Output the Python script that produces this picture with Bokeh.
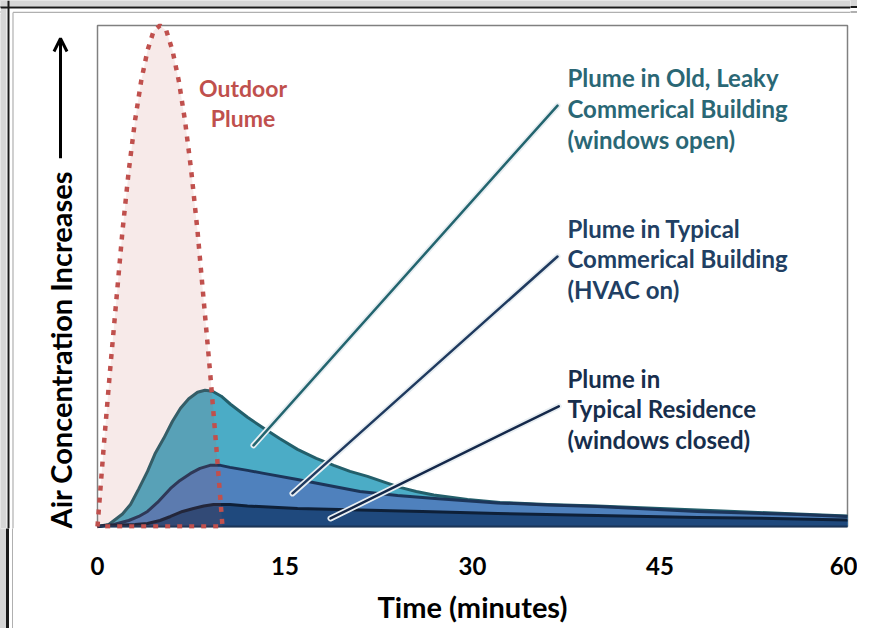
from bokeh.plotting import figure
from bokeh.models import Range1d, Arrow, OpenHead, FixedTicker, LinearAxis
from bokeh.core.properties import value
from bokeh.embed import file_html
from bokeh.resources import INLINE

# ---- data (minutes, relative concentration) ----
outdoor_t = [0, 0.5, 1, 1.5, 2, 2.5, 3, 3.5, 4, 4.5, 5, 5.5, 6, 6.5, 7, 7.5, 8, 8.5, 9, 9.5, 10]
outdoor_c = [0, 16, 31, 45, 59, 71, 81, 89, 95, 99, 100, 99, 95, 89, 81, 71, 59, 45, 31, 16, 0]

leaky_t = [0, 0.9, 2, 2.64, 3.3, 4, 4.6, 5.3, 6, 6.64, 7.3, 8, 8.6, 9.2, 9.9, 10.64, 12, 13.3, 14.6,
           16, 17.5, 18.9, 20.2, 21.6, 23, 24.2, 25.5, 26.9, 29.6, 32.2, 36, 40, 45, 50, 55, 60]
leaky_c = [0, 0.4, 2.5, 4.4, 7.5, 11, 14.5, 17.6, 21, 23.6, 25.5, 26.8, 27.2, 27, 26, 24.4, 21.8, 19.6, 17.5,
           15.4, 13.6, 12.2, 11, 10, 8.8, 7.8, 7.0, 6.3, 5.4, 4.8, 4.4, 4.1, 3.6, 3.1, 2.6, 2.1]

hvac_t = [0, 1.3, 2.5, 3.3, 4, 4.8, 5.84, 6.6, 7.44, 8.2, 9, 9.84, 10.6, 12, 13.3, 16, 18.5, 21, 24, 27,
          32, 36, 40, 44, 48, 52, 56, 60]
hvac_c = [0, 0.4, 1.2, 2, 3, 4.8, 7.6, 9.2, 10.6, 11.6, 12.2, 12.2, 11.8, 11.2, 10.6, 9.4, 8.2, 7, 6.2, 5.6,
          4.7, 4.3, 4.0, 3.5, 3.0, 2.7, 2.4, 2.0]

home_t = [0, 0.6, 2, 3, 4, 5, 5.84, 6.8, 7.68, 8.5, 9.28, 10.6, 12, 16, 21, 26, 32, 40, 48, 54, 60]
home_c = [0, 0.2, 0.3, 0.4, 0.6, 1.2, 2, 3, 3.6, 4.1, 4.4, 4.4, 4.1, 3.6, 3.3, 3.0, 2.6, 2.2, 1.8, 1.6, 1.3]

x_ticks = [0, 15, 30, 45, 60]
x_title = "Time (minutes)"
x_title_at = 30

FONT = "Lato"

# the frame is widened to the left/top so that the vertical title, arrow and page border sit inside it
XL, XR, YB, YT = -7.76, 60.24, -0.4, 104.99
p = figure(width=857, height=628, output_backend="svg", toolbar_location=None,
           x_range=Range1d(XL, XR), y_range=Range1d(YB, YT),
           min_border_left=0, min_border_right=7, min_border_top=0, min_border_bottom=100)
p.background_fill_color = "white"
p.border_fill_color = None
# continuation of the page border outside the frame
p.styles = {"background":
            "linear-gradient(to bottom, #d6d6d6 0px, #d6d6d6 6px, #1a1a1a 6px, #1a1a1a 8px, "
            "#ffffff 8px, #ffffff 11.5px, #b0b0b0 11.5px, #b0b0b0 12.7px, #ffffff 12.7px) "
            "left top / 100% 14px no-repeat, "
            "linear-gradient(to right, #d6d6d6 0px, #d6d6d6 6px, #1a1a1a 6px, "
            "#1a1a1a 9px, #ffffff 9px, #ffffff 12px, #b0b0b0 12px, #b0b0b0 13px, "
            "#ffffff 13px, #ffffff 100%)"}
p.outline_line_color = None
p.grid.visible = False
p.yaxis.visible = False

ax = p.xaxis[0]
ax.ticker = FixedTicker(ticks=x_ticks)
ax.axis_line_color = None
ax.major_tick_line_color = None
ax.minor_tick_line_color = None
ax.major_label_text_font = FONT
ax.major_label_text_font_style = "bold"
ax.major_label_text_font_size = "24px"
ax.major_label_text_color = "black"
ax.major_label_standoff = 22

# axis title carried by a second axis so that it is centred under the 0-60 range
ax2 = LinearAxis(ticker=FixedTicker(ticks=[x_title_at]),
                 major_label_overrides={x_title_at: x_title})
ax2.axis_line_color = None
ax2.major_tick_line_color = None
ax2.minor_tick_line_color = None
ax2.major_label_text_font = FONT
ax2.major_label_text_font_style = "bold"
ax2.major_label_text_font_size = "29px"
ax2.major_label_text_color = "black"
ax2.major_label_standoff = 5
p.add_layout(ax2, "below")

# page border decoration (grey band, dark edge, thin inner line)
p.quad(left=[XL, XL], right=[XR, -7.28], bottom=[103.79, YB], top=[YT, YT],
       fill_color="#d6d6d6", line_color=None)
p.segment([XL, -7.12], [103.59, YT], [XR, -7.12], [103.59, YB], line_color="#1a1a1a", line_width=2)
p.segment([-6.76, -6.76], [102.6, 102.6], [XR, -6.76], [102.6, YB], line_color="#b0b0b0", line_width=1.2)

# plot box (0..60 minutes, 0..100)
p.quad(left=[0], right=[60], bottom=[0], top=[100], fill_color=None,
       line_color="#808080", line_width=1.5)

# filled plumes (each from zero, overlapping)
p.varea(x=leaky_t, y1=0, y2=leaky_c, fill_color="#4bacc6")
p.varea(x=hvac_t, y1=0, y2=hvac_c, fill_color="#4f81bd")
p.varea(x=home_t, y1=0, y2=home_c, fill_color="#1f497d")
p.line(leaky_t, leaky_c, line_color="#235f6b", line_width=3, line_join="round")
p.line(hvac_t, hvac_c, line_color="#1c3559", line_width=3, line_join="round")
p.line(home_t, home_c, line_color="#0e2038", line_width=3, line_join="round")
p.segment([0], [0], [60], [0], line_color="#1a3558", line_width=2)

# outdoor plume: translucent pink fill and dotted red outline
p.varea(x=outdoor_t, y1=0, y2=outdoor_c, fill_color="#c0504d", fill_alpha=0.12)
p.line(outdoor_t + [0], outdoor_c + [0], line_color="#c0504d", line_width=4.5,
       line_dash="5 7", line_cap="butt")

# leader lines (light halo + coloured line)
lead_x0 = [12.48, 15.6, 18.64]
lead_y0 = [16.2, 6.6, 1.6]
lead_x1 = [36.8, 36.8, 36.9]
lead_y1 = [84.0, 53.9, 24.0]
lead_col = ["#23656f", "#1f3a5f", "#14284a"]
p.segment(lead_x0, lead_y0, lead_x1, lead_y1, line_color="#e8eef2", line_width=6, line_cap="round")
p.segment(lead_x0, lead_y0, lead_x1, lead_y1, line_color=lead_col, line_width=2.5, line_cap="round")

# annotation texts
def block(lines, x, ys, color, align="left", size="24px", angle=0):
    p.text(x=[x] * len(lines), y=ys, text=lines, text_font=value(FONT), text_font_style="bold",
           text_font_size=size, text_color=color, text_align=align, text_baseline="middle",
           angle=angle)

block(["Plume in Old, Leaky", "Commerical Building", "(windows open)"], 37.6, [89.6, 83.4, 77.2], "#2a6775")
block(["Plume in Typical", "Commerical Building", "(HVAC on)"], 37.6, [59.5, 53.5, 47.3], "#213f63")
block(["Plume in", "Typical Residence", "(windows closed)"], 37.6, [29.5, 23.6, 17.4], "#172e4c")
block(["Outdoor", "Plume"], 11.64, [87.6, 81.6], "#c0504d", align="center", size="23px")

# vertical axis title with upward arrow
block(["Air Concentration Increases"], -2.96, [35.3], "black", align="center", size="29px", angle=1.5708)
p.add_layout(Arrow(x_start=-2.96, y_start=73.5, x_end=-2.96, y_end=97.4, line_width=3,
                   line_color="black",
                   end=OpenHead(size=13, line_width=3, line_color="black")))

open("out.html", "w").write(file_html(p, INLINE))
